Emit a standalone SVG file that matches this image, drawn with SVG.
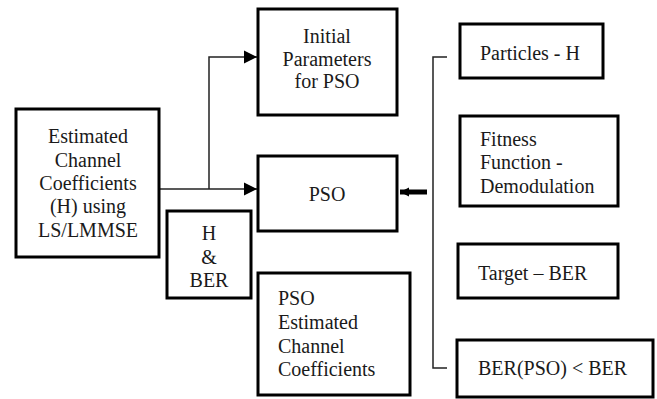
<svg xmlns="http://www.w3.org/2000/svg" width="657" height="399" viewBox="0 0 657 399">
  <style>
    .box { fill: #fff; stroke: #000; stroke-width: 3; }
    .lbl { font-family: 'Liberation Serif', Tinos, 'Noto Serif', 'DejaVu Serif', FreeSerif, Times, serif; font-size: 20px; fill: #1a1a1a; }
    .c { text-anchor: middle; }
    .wire { fill: none; stroke: #222; stroke-width: 1.5; }
  </style>
  <defs>
    <marker id="tri" viewBox="0 0 10 10" refX="10" refY="5" markerWidth="13" markerHeight="14" markerUnits="userSpaceOnUse" orient="auto">
      <path d="M0,0 L10,5 L0,10 Z" fill="#000"/>
    </marker>
    <marker id="tri-bold" viewBox="0 0 10 10" refX="10" refY="5" markerWidth="9" markerHeight="14" markerUnits="userSpaceOnUse" orient="auto">
      <path d="M0,0 L10,5 L0,10 Z" fill="#000"/>
    </marker>
  </defs>

  <g id="connectors">
    <path class="wire" d="M159,189 L257,189" marker-end="url(#tri)"/>
    <path class="wire" d="M209,189 L209,57 L257,57" marker-end="url(#tri)"/>
    <path d="M427,192 L400,192" stroke="#000" stroke-width="5" fill="none" marker-end="url(#tri-bold)"/>
    <path class="wire" d="M447,57 L433,57 L433,368 L447,368"/>
  </g>

  <g id="estimated">
    <rect class="box" x="16" y="109" width="143" height="148"/>
    <text class="lbl c" x="88" y="143">Estimated</text>
    <text class="lbl c" x="88" y="167">Channel</text>
    <text class="lbl c" x="88" y="190">Coefficients</text>
    <text class="lbl c" x="88" y="213">(H) using</text>
    <text class="lbl c" x="88" y="237">LS/LMMSE</text>
  </g>

  <g id="initial">
    <rect class="box" x="258" y="9" width="139" height="106"/>
    <text class="lbl c" x="327" y="43">Initial</text>
    <text class="lbl c" x="327" y="66">Parameters</text>
    <text class="lbl c" x="327" y="88">for PSO</text>
  </g>

  <g id="pso">
    <rect class="box" x="258" y="156" width="139" height="75"/>
    <text class="lbl c" x="327" y="201">PSO</text>
  </g>

  <g id="h-ber">
    <rect class="box" x="167" y="211" width="84" height="87"/>
    <text class="lbl c" x="209" y="240">H</text>
    <text class="lbl c" x="209" y="264">&amp;</text>
    <text class="lbl c" x="209" y="287">BER</text>
  </g>

  <g id="pso-estimated">
    <rect class="box" x="258" y="273" width="152" height="122"/>
    <text class="lbl" x="278" y="305">PSO</text>
    <text class="lbl" x="278" y="329">Estimated</text>
    <text class="lbl" x="278" y="353">Channel</text>
    <text class="lbl" x="278" y="376">Coefficients</text>
  </g>

  <g id="particles">
    <rect class="box" x="460" y="24" width="143" height="54"/>
    <text class="lbl" x="480" y="60">Particles - H</text>
  </g>

  <g id="fitness">
    <rect class="box" x="460" y="116" width="158" height="90"/>
    <text class="lbl" x="480" y="146">Fitness</text>
    <text class="lbl" x="480" y="169">Function -</text>
    <text class="lbl" x="480" y="193">Demodulation</text>
  </g>

  <g id="target">
    <rect class="box" x="458" y="244" width="160" height="54"/>
    <text class="lbl" x="478" y="280">Target – BER</text>
  </g>

  <g id="condition">
    <rect class="box" x="457" y="340" width="196" height="57"/>
    <text class="lbl" x="478" y="375">BER(PSO) &lt; BER</text>
  </g>
</svg>
